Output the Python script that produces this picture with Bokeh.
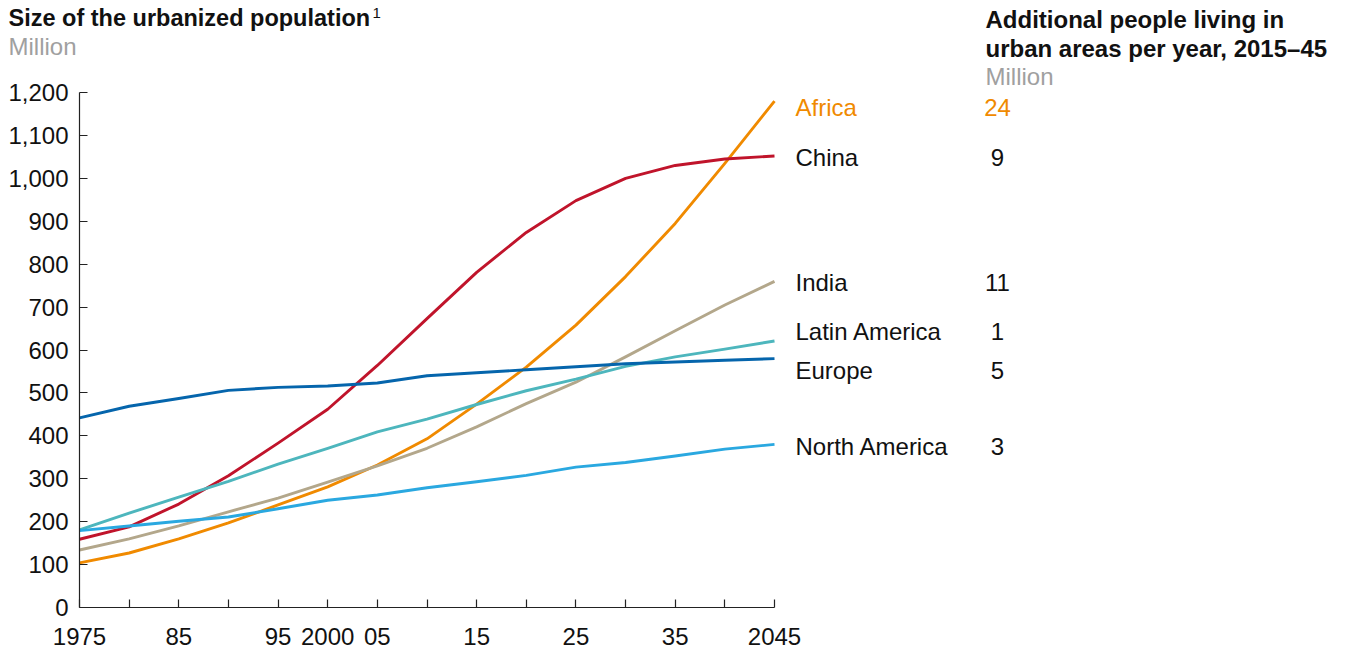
from bokeh.plotting import figure
from bokeh.models import ColumnDataSource, FixedTicker, NumeralTickFormatter, Range1d
from bokeh.core.properties import value
from bokeh.embed import file_html
from bokeh.resources import INLINE

# Urbanized population, million people
years = [1975, 1980, 1985, 1990, 1995, 2000, 2005, 2010, 2015, 2020, 2025, 2030, 2035, 2040, 2045]
africa = [104, 127, 160, 197, 239, 281, 332, 393, 474, 560, 658, 771, 895, 1035, 1180]
china = [159, 188, 241, 307, 383, 462, 564, 673, 781, 874, 948, 1000, 1030, 1045, 1052]
india = [134, 160, 190, 223, 255, 292, 330, 371, 421, 475, 525, 584, 645, 705, 760]
latin_america = [181, 220, 257, 294, 334, 371, 409, 439, 473, 505, 532, 562, 584, 602, 621]
europe = [442, 469, 487, 506, 513, 516, 523, 540, 547, 554, 561, 568, 572, 576, 580]
north_america = [179, 190, 201, 211, 230, 250, 262, 279, 293, 308, 327, 338, 353, 369, 380]

regions = ["Africa", "China", "India", "Latin America", "Europe", "North America"]
added_per_year = [24, 9, 11, 1, 5, 3]  # million per year, 2015-45

tick_years = list(range(1975, 2050, 5))
tick_labels = {1975: "1975", 1985: "85", 1995: "95", 2000: "2000", 2005: "05",
               2015: "15", 2025: "25", 2035: "35", 2045: "2045"}

series = {
    "Africa": (africa, "#F08A00"),
    "China": (china, "#C0142B"),
    "India": (india, "#B3A78B"),
    "Latin America": (latin_america, "#4DB6BD"),
    "Europe": (europe, "#0565AC"),
    "North America": (north_america, "#2AA8E0"),
}

FONT = "Liberation Sans"
TXT = "24px"
W, H = 1346, 653
# pixel box of the plotting area inside the canvas
PLOT_L, PLOT_R, PLOT_T, PLOT_B = 79, 774, 92, 607
X0, X1, Y0, Y1 = 1975, 2045, 0, 1200
sx = (PLOT_R - PLOT_L) / (X1 - X0)
sy = (PLOT_B - PLOT_T) / (Y1 - Y0)

# the frame fills the whole canvas; axes are pinned at 1975 / 0
p = figure(width=W, height=H,
           x_range=Range1d(X0 - PLOT_L / sx, X0 + (W - PLOT_L) / sx),
           y_range=Range1d(Y0 - (H - PLOT_B) / sy, Y0 + PLOT_B / sy),
           min_border=0, output_backend="svg", toolbar_location=None)
p.outline_line_color = None
p.xgrid.visible = False
p.ygrid.visible = False
# canvas-pixel coordinates for headings
p.extra_x_ranges = {"px": Range1d(0, W)}
p.extra_y_ranges = {"px": Range1d(H, 0)}

xa = p.xaxis[0]
xa.fixed_location = Y0
xa.bounds = (X0, X1)
xa.ticker = FixedTicker(ticks=tick_years)
xa.major_label_overrides = {y: tick_labels.get(y, "") for y in tick_years}
xa.minor_tick_line_color = None
xa.major_tick_in = 8
xa.major_tick_out = 0
xa.major_label_standoff = 20
ya = p.yaxis[0]
ya.fixed_location = X0
ya.bounds = (Y0, Y1)
ya.ticker = FixedTicker(ticks=list(range(0, 1300, 100)))
ya.formatter = NumeralTickFormatter(format="0,0")
ya.minor_tick_line_color = None
ya.major_tick_in = 8
ya.major_tick_out = 0
ya.major_label_standoff = 11
for ax in (xa, ya):
    ax.axis_line_color = "#222222"
    ax.major_tick_line_color = "#222222"
    ax.axis_line_width = 1.2
    ax.major_tick_line_width = 1.2
    ax.major_label_text_font = FONT
    ax.major_label_text_font_size = TXT
    ax.major_label_text_color = "#111111"

for name, (vals, color) in series.items():
    p.line(years, vals, line_color=color, line_width=2.9, line_join="round")

# end labels and per-year additions
nudge = {"Africa": -14, "China": -3, "India": -3, "Latin America": 23,
         "Europe": -28, "North America": -4}
ends = [series[r][0][-1] + nudge[r] for r in regions]
colors = ["#F08A00" if r == "Africa" else "#111111" for r in regions]
name_x = X0 + (795 - PLOT_L) / sx
val_x = X0 + (997 - PLOT_L) / sx
src = ColumnDataSource(dict(name=regions, val=[str(v) for v in added_per_year],
                            y=ends, color=colors,
                            nx=[name_x] * len(regions), vx=[val_x] * len(regions)))
p.text(x="nx", y="y", text="name", source=src, text_color="color",
       text_font=value(FONT), text_font_size=TXT, text_baseline="middle",
       text_align="left")
p.text(x="vx", y="y", text="val", source=src, text_color="color",
       text_font=value(FONT), text_font_size=TXT, text_baseline="middle",
       text_align="center")

def heading(x, y, text, size="23.5px", bold=True, color="#111111"):
    p.text(x=[x], y=[y], text=[text], text_font=value(FONT),
           text_font_size=size, text_font_style="bold" if bold else "normal",
           text_color=color, text_baseline="middle", text_align="left",
           x_range_name="px", y_range_name="px")

heading(8, 17, "Size of the urbanized population")
heading(372, 12, "1", size="15px", bold=False)
heading(8, 46, "Million", size=TXT, bold=False, color="#A0A0A0")
heading(985, 19, "Additional people living in", size="24px")
heading(985, 48, "urban areas per year, 2015\u201345", size="24px")
heading(985, 76, "Million", size=TXT, bold=False, color="#A0A0A0")

open("out.html", "w").write(file_html(p, INLINE))
